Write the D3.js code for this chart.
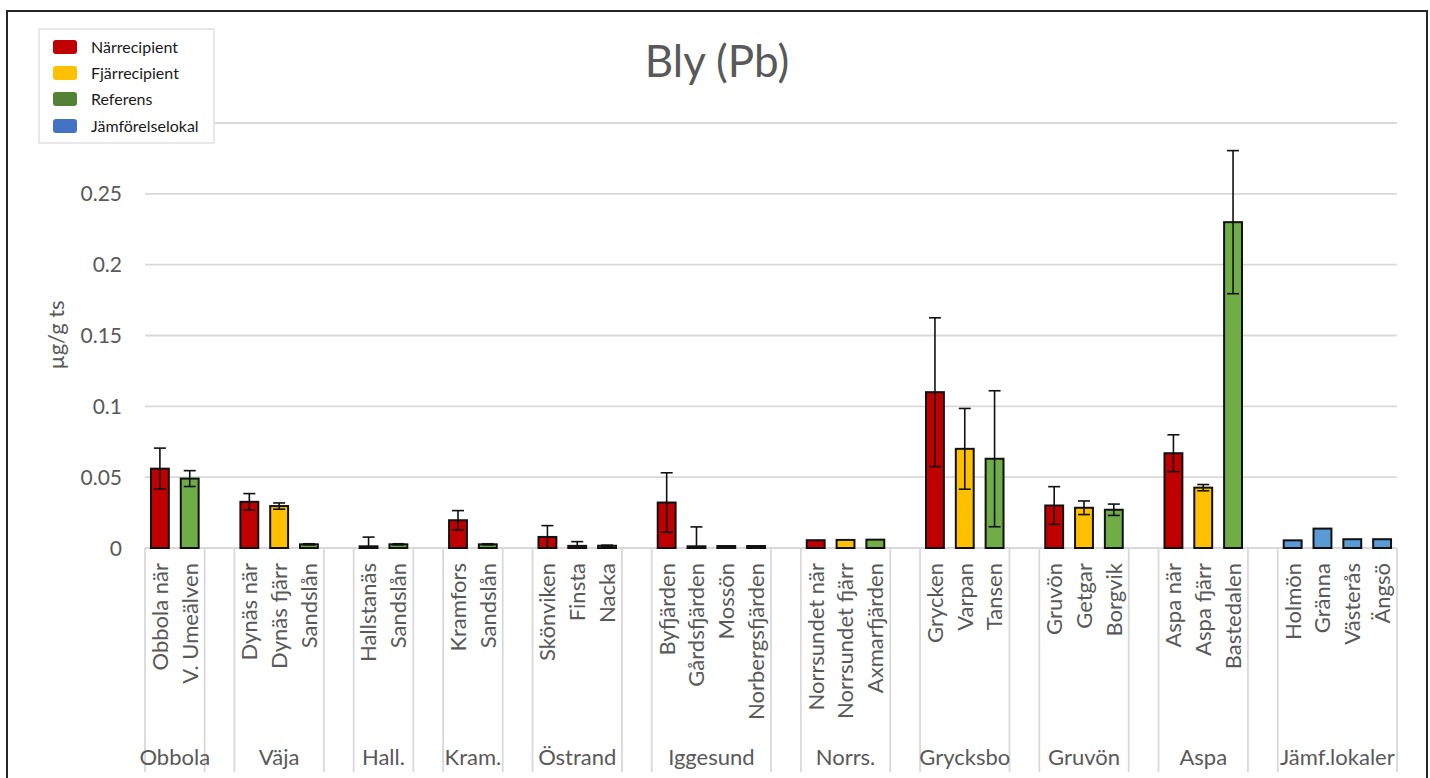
<!DOCTYPE html>
<html>
<head>
<meta charset="utf-8">
<script src="https://cdn.jsdelivr.net/npm/d3@7"></script>
<style>
  html, body { margin: 0; padding: 0; background: #fff; }
  svg { display: block; font-family: Lato, "Open Sans", sans-serif; }
</style>
</head>
<body>
<svg id="chart" width="1430" height="778"></svg>
<script>
// Lead (Pb) concentrations per site, grouped by area
const groups = ["Obbola", "Väja", "Hall.", "Kram.", "Östrand", "Iggesund", "Norrs.", "Grycksbo", "Gruvön", "Aspa", "Jämf.lokaler"];

const sites = [
  "Obbola när", "V. Umeälven",
  "Dynäs när", "Dynäs fjärr", "Sandslån",
  "Hallstanäs", "Sandslån",
  "Kramfors", "Sandslån",
  "Skönviken", "Finsta", "Nacka",
  "Byfjärden", "Gårdsfjärden", "Mossön", "Norbergsfjärden",
  "Norrsundet när", "Norrsundet fjärr", "Axmarfjärden",
  "Grycken", "Varpan", "Tansen",
  "Gruvön", "Getgar", "Borgvik",
  "Aspa när", "Aspa fjärr", "Bastedalen",
  "Holmön", "Gränna", "Västerås", "Ängsö"
];

// index into groups for each site
const siteGroup = [0,0, 1,1,1, 2,2, 3,3, 4,4,4, 5,5,5,5, 6,6,6, 7,7,7, 8,8,8, 9,9,9, 10,10,10,10];

// index into seriesNames for each site
const siteType = [0,2, 0,1,2, 0,2, 0,2, 0,0,1, 0,0,1,2, 0,1,2, 0,1,2, 0,1,2, 0,1,2, 3,3,3,3];

// mean value (µg/g ts)
const values = [
  0.056, 0.049,
  0.0326, 0.0296, 0.0026,
  0.0012, 0.0026,
  0.0196, 0.0026,
  0.0078, 0.0015, 0.0016,
  0.0321, 0.0012, 0.0014, 0.0014,
  0.0055, 0.0057, 0.0059,
  0.110, 0.070, 0.063,
  0.030, 0.0284, 0.027,
  0.0669, 0.0426, 0.230,
  0.0054, 0.0137, 0.0062, 0.0062
];

// error bar half-length (µg/g ts)
const errors = [
  0.0145, 0.0056,
  0.0058, 0.0022, 0.0004,
  0.0065, 0.0004,
  0.0068, 0.0004,
  0.0080, 0.0030, 0.0004,
  0.0210, 0.0137, 0, 0,
  0, 0, 0,
  0.0525, 0.0285, 0.0480,
  0.0133, 0.0048, 0.0040,
  0.0130, 0.0022, 0.0505,
  0, 0, 0, 0
];

const seriesNames = ["Närrecipient", "Fjärrecipient", "Referens", "Jämförelselokal"];
const barColors = ["#C00000", "#FFC000", "#70AD47", "#5B9BD5"];
const legendColors = ["#C00000", "#FFC000", "#548235", "#4472C4"];

// gridline values; the top one (0.3) has its label covered by the legend box
const yGrid = [0, 0.05, 0.1, 0.15, 0.2, 0.25, 0.3];
const yTicks = [0, 0.05, 0.1, 0.15, 0.2, 0.25];
const yTickLabels = ["0", "0.05", "0.1", "0.15", "0.2", "0.25"];

const titleText = "Bly (Pb)";
const yTitle = "µg/g ts";

// ---- layout ----
const svg = d3.select("#chart");
const plotLeft = 145, plotRight = 1397, plotTop = 123, plotBottom = 548;
const axisBottom = 772;

// slot keys: one per site plus an empty slot between groups
const slots = [];
const groupSpans = [];
groups.forEach((g, gi) => {
  if (gi > 0) slots.push("gap" + gi);
  const first = slots.length;
  sites.forEach((s, i) => { if (siteGroup[i] === gi) slots.push("s" + i); });
  groupSpans.push({ name: g, first: first, last: slots.length - 1 });
});

const x = d3.scaleBand().domain(slots).range([plotLeft, plotRight]).padding(0);
const y = d3.scaleLinear().domain([0, 0.3]).range([plotBottom, plotTop]);
const bw = x.bandwidth();
const barW = bw * 0.6;

// outer frame
svg.append("rect")
  .attr("x", 7).attr("y", 11).attr("width", 1420).attr("height", 800)
  .attr("fill", "#fff").attr("stroke", "#262626").attr("stroke-width", 2);

// gridlines
svg.append("g").selectAll("line").data(yGrid).join("line")
  .attr("x1", plotLeft).attr("x2", plotRight)
  .attr("y1", d => y(d)).attr("y2", d => y(d))
  .attr("stroke", "#d9d9d9").attr("stroke-width", 1.8);

// y tick labels
svg.append("g").selectAll("text").data(yTicks).join("text")
  .attr("x", 122).attr("y", d => y(d)).attr("dy", "0.36em")
  .attr("text-anchor", "end").attr("font-size", 21).attr("fill", "#595959")
  .text((d, i) => yTickLabels[i]);

// y axis title
svg.append("text")
  .attr("transform", `translate(64,335) rotate(-90)`)
  .attr("text-anchor", "middle").attr("font-size", 22).attr("fill", "#595959")
  .text(yTitle);

// category dividers (group boundaries)
const dividerXs = [];
groupSpans.forEach(gs => {
  dividerXs.push(x(slots[gs.first]));
  dividerXs.push(x(slots[gs.last]) + bw);
});
svg.append("g").selectAll("line").data(dividerXs).join("line")
  .attr("x1", d => d).attr("x2", d => d)
  .attr("y1", plotBottom).attr("y2", axisBottom)
  .attr("stroke", "#d9d9d9").attr("stroke-width", 1.8);

// bars
const idx = d3.range(sites.length);
svg.append("g").selectAll("rect").data(idx).join("rect")
  .attr("x", i => x("s" + i) + (bw - barW) / 2)
  .attr("y", i => y(values[i]))
  .attr("width", barW)
  .attr("height", i => y(0) - y(values[i]))
  .attr("fill", i => barColors[siteType[i]])
  .attr("stroke", "#111").attr("stroke-width", 2);

// error bars
const errIdx = idx.filter(i => errors[i] > 0);
const eb = svg.append("g").attr("stroke", "#111").attr("stroke-width", 1.6);
errIdx.forEach(i => {
  const cx = x("s" + i) + bw / 2;
  const hi = y(values[i] + errors[i]);
  const lo = y(Math.max(0, values[i] - errors[i]));
  eb.append("line").attr("x1", cx).attr("x2", cx).attr("y1", hi).attr("y2", lo);
  eb.append("line").attr("x1", cx - 6).attr("x2", cx + 6).attr("y1", hi).attr("y2", hi);
  if (values[i] - errors[i] > 0)
    eb.append("line").attr("x1", cx - 6).attr("x2", cx + 6).attr("y1", lo).attr("y2", lo);
});

// site labels (rotated)
svg.append("g").selectAll("text").data(idx).join("text")
  .attr("transform", i => `translate(${x("s" + i) + bw / 2},563) rotate(-90)`)
  .attr("dy", "0.36em")
  .attr("text-anchor", "end").attr("font-size", 22).attr("fill", "#595959")
  .text(i => sites[i]);

// group labels
svg.append("g").selectAll("text").data(groupSpans).join("text")
  .attr("x", d => (x(slots[d.first]) + x(slots[d.last]) + bw) / 2)
  .attr("y", 765)
  .attr("text-anchor", "middle").attr("font-size", 22).attr("fill", "#595959")
  .text(d => d.name);

// title
svg.append("text")
  .attr("x", 717).attr("y", 77)
  .attr("text-anchor", "middle").attr("font-size", 44).attr("fill", "#595959")
  .text(titleText);

// legend
const legend = svg.append("g");
legend.append("rect")
  .attr("x", 39).attr("y", 29).attr("width", 175).attr("height", 114)
  .attr("fill", "#fff").attr("stroke", "#d9d9d9").attr("stroke-width", 1.2);
const rowY = [47, 73, 99, 126];
seriesNames.forEach((n, i) => {
  legend.append("rect")
    .attr("x", 53).attr("y", rowY[i] - 7).attr("width", 24).attr("height", 14)
    .attr("rx", 3).attr("fill", legendColors[i]);
  legend.append("text")
    .attr("x", 91).attr("y", rowY[i]).attr("dy", "0.36em")
    .attr("font-size", 16).attr("fill", "#1a1a1a")
    .text(n);
});
</script>
</body>
</html>
